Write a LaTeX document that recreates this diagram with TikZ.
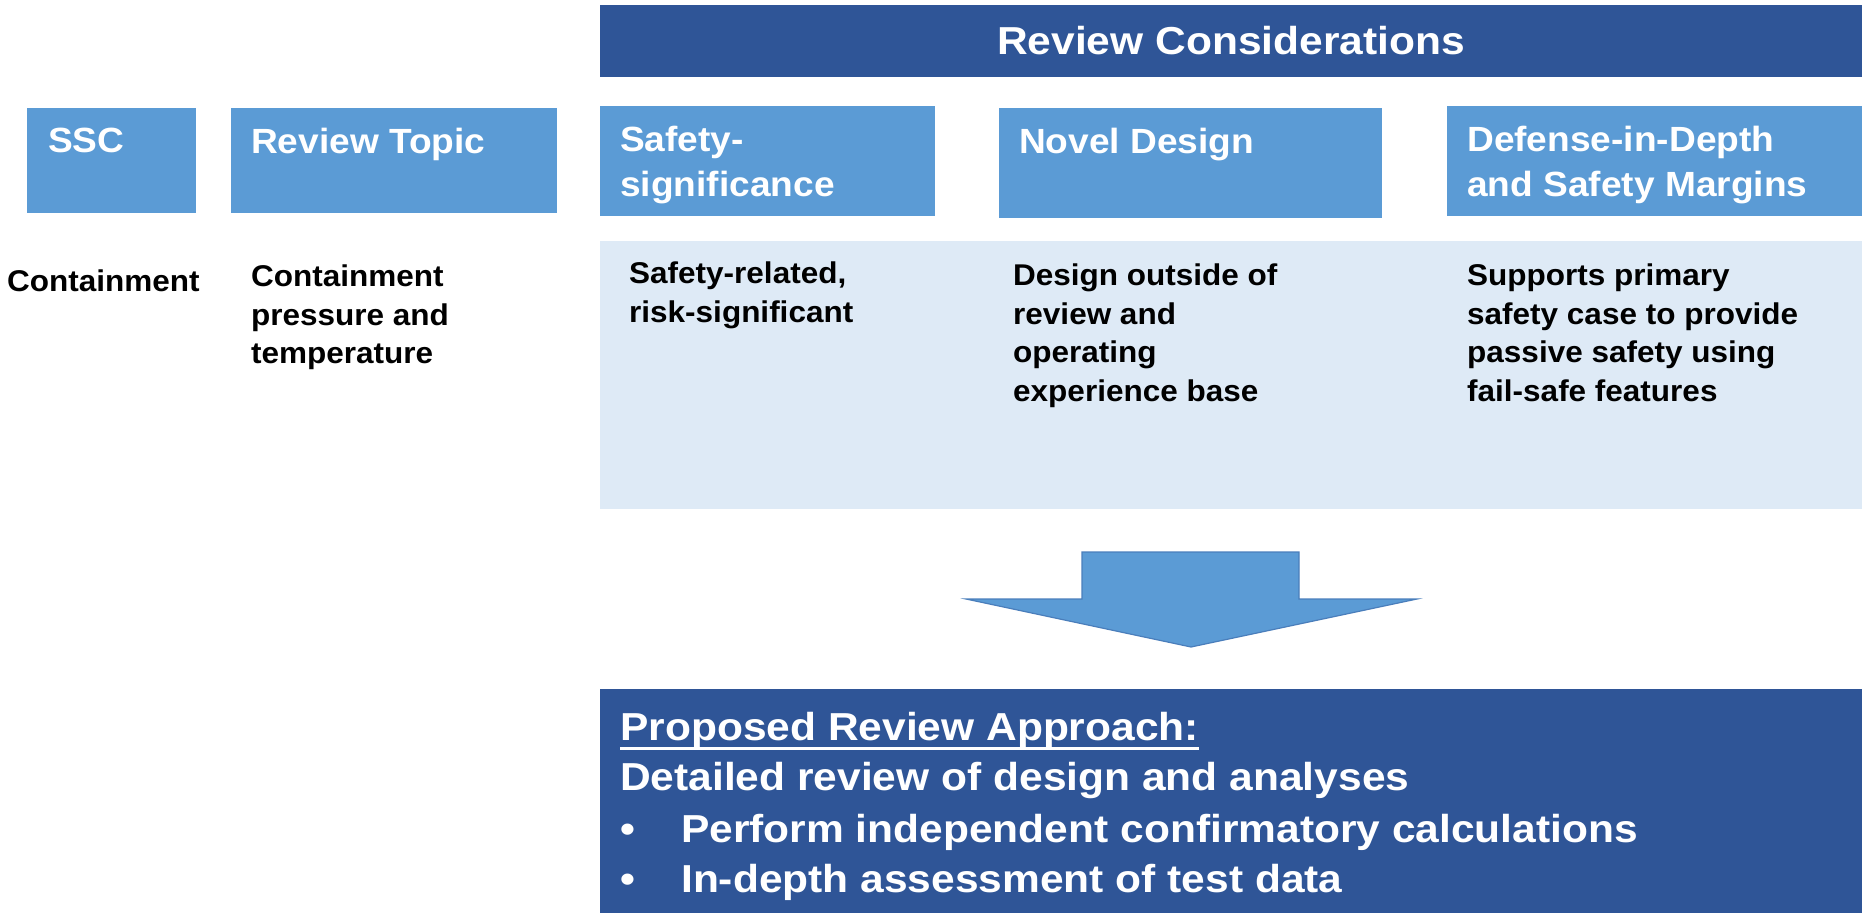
\documentclass[tikz,border=0pt]{standalone}
\usepackage{fontspec}
\setmainfont{Liberation Sans}
\newfontfamily\bodyfont[FakeStretch=1.05]{Liberation Sans}
\newfontfamily\hdrfont[FakeStretch=1.06]{Liberation Sans}
\newfontfamily\bigfont[FakeStretch=1.09]{Liberation Sans}
\definecolor{darkblue}{HTML}{2F5597}
\definecolor{midblue}{HTML}{5B9BD5}
\definecolor{lightblue}{HTML}{DEEAF6}
\definecolor{arrowedge}{HTML}{4A7EBB}
\begin{document}
\begin{tikzpicture}[x=1pt,y=-1pt,
  hdrtxt/.style={anchor=north west, inner sep=0pt, text=white, font=\hdrfont\bfseries\fontsize{35}{45}\selectfont, align=left},
  bodytxt/.style={anchor=north west, inner sep=0pt, text=black, font=\bodyfont\bfseries\fontsize{30}{38.5}\selectfont, align=left},
  bigtxt/.style={anchor=base west, inner sep=0pt, text=white, font=\bigfont\bfseries\fontsize{39}{50}\selectfont},
  titletxt/.style={inner sep=0pt, text=white, font=\bigfont\bfseries\fontsize{39}{46}\selectfont}]
\useasboundingbox (0,0) rectangle (1866,913);
% banner
\fill[darkblue] (600,5) rectangle (1862,77);
\node[titletxt] (rc) at (1231,41) {Review Considerations};
% header boxes
\fill[midblue] (27,108) rectangle (196,213);
\fill[midblue] (231,108) rectangle (557,213);
\fill[midblue] (600,106) rectangle (935,216);
\fill[midblue] (999,108) rectangle (1382,218);
\fill[midblue] (1447,106) rectangle (1862,216);
\node[hdrtxt] (hssc) at (48,128) {SSC};
\node[hdrtxt] (hrt) at (251,128) {Review Topic};
\node[hdrtxt] (hss) at (620,126) {Safety-\\significance};
\node[hdrtxt] (hnd) at (1019,128) {Novel Design};
\node[hdrtxt] (hdd) at (1467,126) {Defense-in-Depth\\and Safety Margins};
% light body
\fill[lightblue] (600,241) rectangle (1862,509);
\node[bodytxt] (bssc) at (7,270) {Containment};
\node[bodytxt] (brt) at (251,265) {Containment\\pressure and\\temperature};
\node[bodytxt] (bss) at (629,262) {Safety-related,\\risk-significant};
\node[bodytxt] (bnd) at (1013,264) {Design outside of\\review and\\operating\\experience base};
\node[bodytxt] (bdd) at (1467,264) {Supports primary\\safety case to provide\\passive safety using\\fail-safe features};
% arrow
\filldraw[fill=midblue, draw=arrowedge, line width=1.2pt, line join=miter]
  (1082,552) -- (1299,552) -- (1299,599) -- (1417,599) -- (1191,647) -- (966,599) -- (1082,599) -- cycle;
% bottom box
\fill[darkblue] (600,689) rectangle (1862,913);
\node[bigtxt] (pra) at (620,740) {Proposed Review Approach:};
\draw[white, line width=3pt] ([yshift=-8pt]pra.base west) -- ([yshift=-8pt]pra.base east);
\node[bigtxt] (det) at (620,790) {Detailed review of design and analyses};
\node[bigtxt] (bul1) at (620,842) {•};
\node[bigtxt] (b1) at (681,842) {Perform independent confirmatory calculations};
\node[bigtxt] (bul2) at (620,892) {•};
\node[bigtxt] (b2) at (681,892) {In-depth assessment of test data};
\end{tikzpicture}
\end{document}
